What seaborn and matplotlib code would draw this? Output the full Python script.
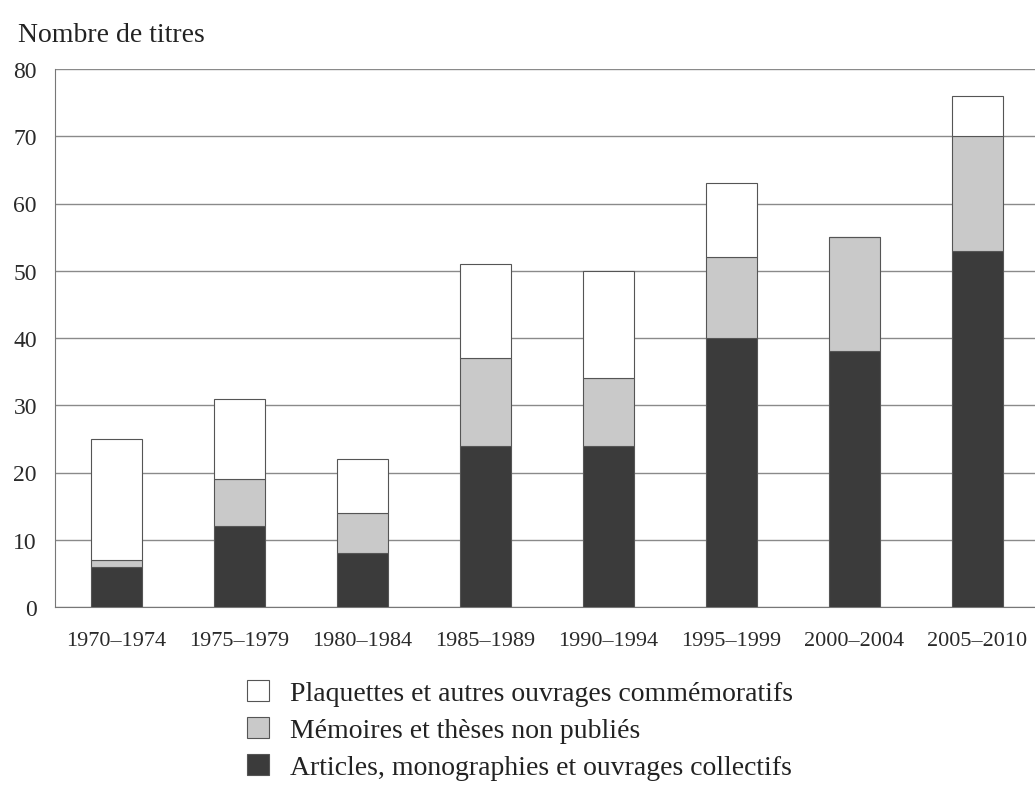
import matplotlib
matplotlib.use("Agg")
import matplotlib.pyplot as plt
import seaborn as sns
import pandas as pd
import numpy as np

periods = ["1970–1974", "1975–1979", "1980–1984", "1985–1989",
           "1990–1994", "1995–1999", "2000–2004", "2005–2010"]
articles = [6, 12, 8, 24, 24, 40, 38, 53]
memoires = [1, 7, 6, 13, 10, 12, 17, 17]
plaquettes = [18, 12, 8, 14, 16, 11, 0, 6]

lab_art = "Articles, monographies et ouvrages collectifs"
lab_mem = "Mémoires et thèses non publiés"
lab_plaq = "Plaquettes et autres ouvrages commémoratifs"

sns.set_style("white")
plt.rcParams['font.family'] = ['Liberation Serif', 'DejaVu Serif']

df = pd.DataFrame({"period": periods, "art": articles, "mem": memoires, "plaq": plaquettes})
df["b_mem"] = df["art"]
df["b_plaq"] = df["art"] + df["mem"]

fig = plt.figure(figsize=(10.35, 8.04), dpi=100)
ax = fig.add_axes([55/1035, 1 - 608/804, 984/1035, (608 - 70)/804])

edge = "#555555"
sns.barplot(data=df, x="period", y="art", color="#3b3b3b", edgecolor=edge,
            linewidth=0.8, width=0.41, ax=ax, label=lab_art, saturation=1, zorder=3)
sns.barplot(data=df, x="period", y="mem", bottom=df["b_mem"], color="#c9c9c9", edgecolor=edge,
            linewidth=0.8, width=0.41, ax=ax, label=lab_mem, saturation=1, zorder=3)
sns.barplot(data=df, x="period", y="plaq", bottom=df["b_plaq"], color="#ffffff", edgecolor=edge,
            linewidth=0.8, width=0.41, ax=ax, label=lab_plaq, saturation=1, zorder=3)

ax.set_xlim(-0.5, 7.5)
ax.set_ylim(0, 80)
ax.set_yticks(np.arange(0, 81, 10))
ax.yaxis.grid(True, color="#8a8a8a", linewidth=1.0, zorder=0)
ax.set_axisbelow(True)
for s in ["top", "right"]:
    ax.spines[s].set_visible(False)
ax.spines["left"].set_color("#777777")
ax.spines["bottom"].set_color("#777777")
ax.spines["left"].set_linewidth(0.8)
ax.spines["bottom"].set_linewidth(0.8)

ax.set_xticks(np.arange(8))
ax.set_xticklabels(periods)
ax.set_xticks(np.arange(-0.5, 8, 1), minor=True)
ax.tick_params(axis="x", which="major", length=0, pad=17, labelsize=16, labelcolor="#2a2a2a")
ax.tick_params(axis="x", which="minor", length=8, width=0.8, color="#777777", direction="out")
ax.tick_params(axis="y", length=7, width=0.8, color="#777777", pad=6, labelsize=17, labelcolor="#2a2a2a")
ax.set_xlabel("")
ax.set_ylabel("")

fig.text(18/1035, 1 - 35/804, "Nombre de titres", fontsize=20, color="#222222",
         ha="left", va="center")

handles, labels = ax.get_legend_handles_labels()
order = [labels.index(lab_plaq), labels.index(lab_mem), labels.index(lab_art)]
if ax.get_legend() is not None:
    ax.get_legend().remove()
fig.legend([handles[i] for i in order], [labels[i] for i in order],
           loc="upper left", bbox_to_anchor=(222/1035, 1 - 656/804),
           frameon=False, fontsize=20, handlelength=0.8, handleheight=0.8,
           handletextpad=0.75, labelspacing=0.38, labelcolor="#222222")

fig.savefig("out.png", dpi=100)
